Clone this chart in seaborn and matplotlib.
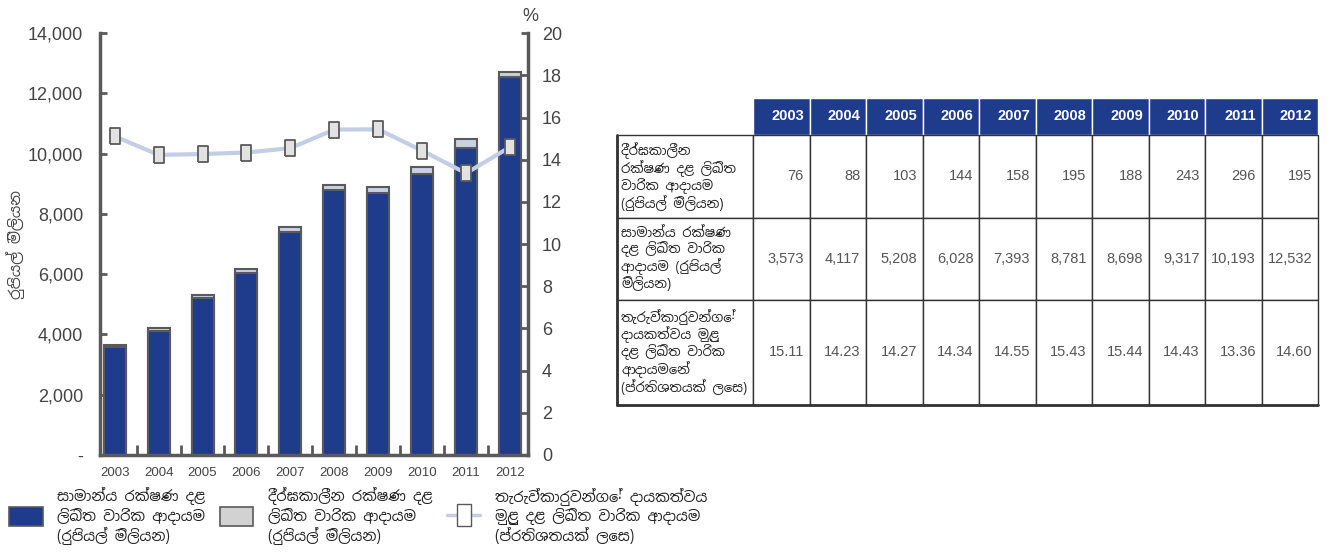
import numpy as np
import pandas as pd
import matplotlib
matplotlib.use('Agg')
import matplotlib.pyplot as plt
import seaborn as sns
from matplotlib.patches import Patch
from matplotlib.lines import Line2D
from matplotlib.ticker import FuncFormatter

# --- data ---
years = ['2003', '2004', '2005', '2006', '2007', '2008', '2009', '2010', '2011', '2012']
long_term = [76, 88, 103, 144, 158, 195, 188, 243, 296, 195]
general = [3573, 4117, 5208, 6028, 7393, 8781, 8698, 9317, 10193, 12532]
share_pct = [15.11, 14.23, 14.27, 14.34, 14.55, 15.43, 15.44, 14.43, 13.36, 14.60]

lbl_long = 'දීර්ඝකාලීන රක්ෂණ දළ\nලිඛිත වාරික ආදායම\n(රුපියල් මිලියන)'
lbl_gen = 'සාමාන්ය රක්ෂණ දළ\nලිඛිත වාරික ආදායම\n(රුපියල් මිලියන)'
lbl_pct = 'තැරැව්කාරුවන්ගේ දායකත්වය\nමුළු දළ ලිඛිත වාරික ආදායම\n(ප්රතිශතයක් ලෙස)'
row_labels = ['දීර්ඝකාලීන\nරක්ෂණ දළ ලිඛිත\nවාරික ආදායම\n(රුපියල් මිලියන)',
              'සාමාන්ය රක්ෂණ\nදළ ලිඛිත වාරික\nආදායම (රුපියල්\nමිලියන)',
              'තැරැව්කාරුවන්ගේ\nදායකත්වය මුළු\nදළ ලිඛිත වාරික\nආදායමෙන්\n(ප්රතිශතයක් ලෙස)']
ylabel_left = 'රුපියල් මිලියන'

df = pd.DataFrame({'year': years, 'general': general, 'long_term': long_term, 'pct': share_pct})
df['total'] = df['general'] + df['long_term']

sns.set_theme(style='white')
plt.rcParams['font.family'] = ['Liberation Sans', 'Noto Sans Sinhala', 'DejaVu Sans']
SIN = ['Noto Sans Sinhala', 'Liberation Sans', 'DejaVu Sans']

BLUE = '#1F3C8C'
LIGHT = '#C9D1E5'
EDGE = '#5A5A5A'
TXT = '#444444'

fig = plt.figure(figsize=(13.3, 5.54), dpi=100)
ax = fig.add_axes([0.075, 0.179, 0.322, 0.761])

sns.barplot(data=df, x='year', y='total', color=LIGHT, width=0.5, edgecolor=EDGE,
            linewidth=1.5, saturation=1, ax=ax)
sns.barplot(data=df, x='year', y='general', color=BLUE, width=0.5, edgecolor=EDGE,
            linewidth=1.5, saturation=1, ax=ax)
ax.set_xlim(-0.34, 9.41)
ax.set_ylim(0, 14000)
ax.set_yticks(np.arange(0, 14001, 2000))
ax.yaxis.set_major_formatter(FuncFormatter(lambda v, p: '-' if v == 0 else f'{v:,.0f}'))
ax.tick_params(axis='y', direction='in', length=5, width=2, color=EDGE, labelsize=13,
               labelcolor=TXT, pad=12, left=True)
ax.tick_params(axis='x', length=0, labelsize=9.5, labelcolor=TXT, pad=9)
ax.set_xticks(np.arange(9) + 0.5, minor=True)
ax.tick_params(axis='x', which='minor', direction='in', length=7, width=2, color=EDGE, bottom=True)
ax.set_xlabel('')
ax.set_ylabel(ylabel_left, fontsize=11, color=TXT, labelpad=2, family=SIN)
for s in ['left', 'bottom']:
    ax.spines[s].set_color(EDGE)
    ax.spines[s].set_linewidth(2.5)
ax.spines['top'].set_visible(False)
ax.spines['right'].set_visible(False)

ax2 = ax.twinx()
rect = [(-0.3, -0.5), (0.3, -0.5), (0.3, 0.5), (-0.3, 0.5), (-0.3, -0.5)]
sns.lineplot(x=np.arange(len(years)), y=df['pct'], color='#C3CDE6', linewidth=3,
             marker=rect, markersize=11, markerfacecolor='#E2E2E2', markeredgecolor=EDGE,
             markeredgewidth=1.3, ax=ax2)
ax2.set_ylim(0, 20)
ax2.set_yticks(np.arange(0, 21, 2))
ax2.tick_params(axis='y', direction='in', length=5, width=2, color=EDGE, labelsize=13,
                labelcolor=TXT, pad=10, right=True)
ax2.set_ylabel('')
ax2.spines['right'].set_color(EDGE)
ax2.spines['right'].set_linewidth(2.5)
for s in ['top', 'left', 'bottom']:
    ax2.spines[s].set_visible(False)
ax2.text(1.005, 1.02, '%', transform=ax2.transAxes, fontsize=13, color=TXT, ha='center', va='bottom')

# --- legend ---
handles = [Patch(facecolor=BLUE, edgecolor=EDGE, linewidth=1.2),
           Patch(facecolor='#D2D2D2', edgecolor=EDGE, linewidth=1.2),
           Line2D([0], [0], color='#C3CDE6', linewidth=2.5, marker=rect, markersize=16,
                  markerfacecolor='white', markeredgecolor=EDGE, markeredgewidth=1)]
fig.legend(handles, [lbl_gen, lbl_long, lbl_pct], loc='lower left', bbox_to_anchor=(-0.003, -0.008),
           ncol=3, frameon=False, handlelength=2.3, handleheight=1.6,
           columnspacing=1.0, handletextpad=1.0, labelcolor='#222222', labelspacing=0.3,
           prop={'family': SIN, 'size': 10.5, 'weight': 'bold'})

# --- table ---
axt = fig.add_axes([0.464, 0.269, 0.527, 0.554])
axt.axis('off')
cell_text = [[f'{v:,}' for v in long_term],
             [f'{v:,}' for v in general],
             [f'{v:.2f}' for v in share_pct]]
tbl = axt.table(cellText=[[''] + years] + [[row_labels[i]] + cell_text[i] for i in range(3)],
                loc='center', bbox=[0, 0, 1, 1], cellLoc='right')
tbl.auto_set_font_size(False)
col_w = [0.194] + [0.0806] * 10
row_h = [0.12, 0.27, 0.267, 0.343]
for (r, c), cell in tbl.get_celld().items():
    cell.set_width(col_w[c])
    cell.set_height(row_h[r])
    cell.set_linewidth(1)
    cell.set_edgecolor('#333333')
    txt = cell.get_text()
    if r == 0:
        cell.set_edgecolor('white')
        if c == 0:
            cell.set_facecolor('white')
        else:
            cell.set_facecolor(BLUE)
            txt.set_color('white')
            txt.set_fontweight('bold')
            txt.set_fontsize(10.5)
            txt.set_horizontalalignment('right')
    else:
        if c == 0:
            txt.set_horizontalalignment('left')
            txt.set_family(SIN)
            txt.set_fontsize(9.5)
            txt.set_fontweight('bold')
            txt.set_color('#222222')
            txt.set_linespacing(1.1)
            cell.PAD = 0.03
        else:
            txt.set_fontsize(10.5)
            txt.set_color('#555555')
# thicker left / bottom outline
axt.plot([0, 0], [0, 0.88], color='#333333', linewidth=2, transform=axt.transAxes, clip_on=False)
axt.plot([0, 1], [0, 0], color='#333333', linewidth=2, transform=axt.transAxes, clip_on=False)

fig.savefig('out.png', dpi=100)
